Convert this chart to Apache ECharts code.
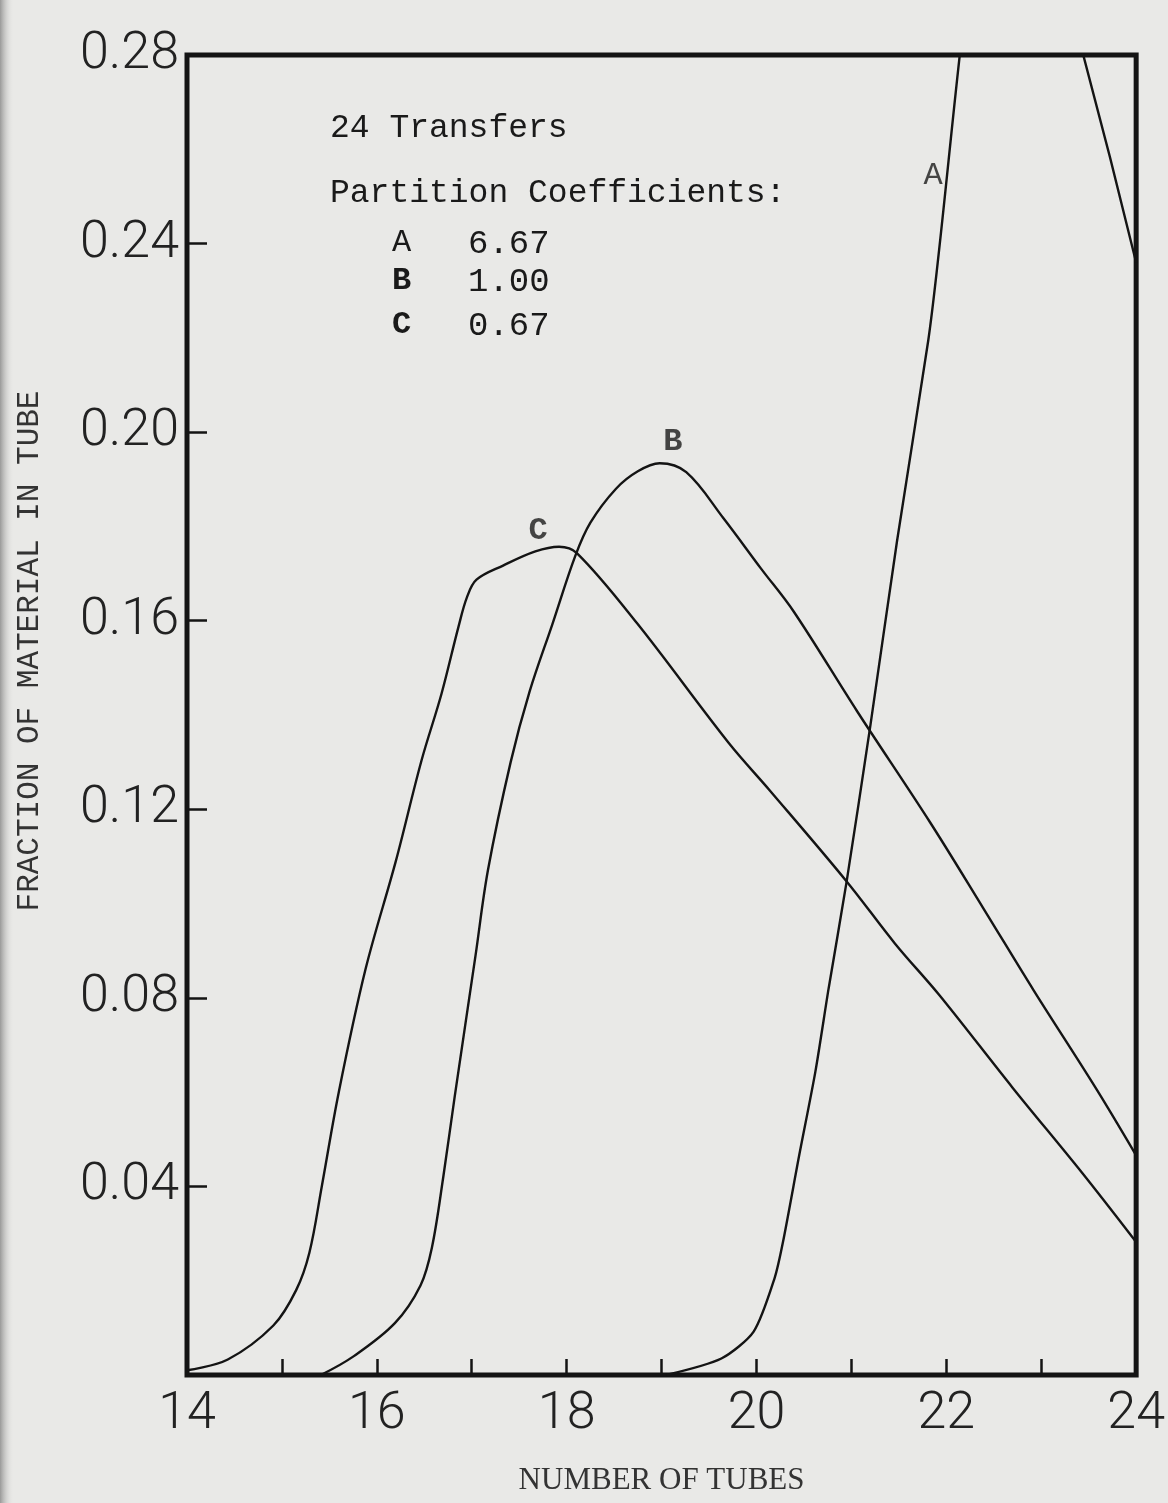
<!DOCTYPE html>
<html>
<head>
<meta charset="utf-8">
<script src="https://cdn.jsdelivr.net/npm/echarts@6/dist/echarts.min.js"></script>
<style>
  html, body { margin: 0; padding: 0; background: #e9e9e7; }
  #chart { width: 1168px; height: 1503px; }
</style>
</head>
<body>
<div id="chart"></div>
<script>
// ---- data ----
const xTickLabels = ['14', '', '16', '', '18', '', '20', '', '22', '', '24'];
const yTickLabels = ['', '0.04', '0.08', '0.12', '0.16', '0.20', '0.24', '0.28'];

// Curve A (partition coefficient 6.67)
const tubesA = [19.05, 19.63, 19.97, 20.19, 20.28, 20.45, 20.62, 20.76, 20.95, 21.20, 21.48, 21.81, 22.60, 24.00];
const fracA  = [0.0000, 0.0035, 0.0092, 0.0205, 0.0283, 0.0466, 0.0643, 0.0820, 0.1047, 0.1378, 0.1768, 0.2195, 0.3310, 0.2360];

// Curve B (partition coefficient 1.00)
const tubesB = [15.41, 15.75, 16.19, 16.46, 16.58, 16.70, 16.82, 17.04, 17.17, 17.41, 17.61, 17.85, 18.09, 18.25, 18.52, 18.75, 18.98, 19.26, 19.65, 20.05, 20.39, 21.06, 21.83, 22.39, 22.92, 23.58, 24.00];
const fracB  = [0.0000, 0.0039, 0.0110, 0.0190, 0.0270, 0.0420, 0.0590, 0.0890, 0.1070, 0.1300, 0.1450, 0.1593, 0.1737, 0.1808, 0.1880, 0.1917, 0.1934, 0.1915, 0.1818, 0.1710, 0.1620, 0.1408, 0.1172, 0.0990, 0.0816, 0.0607, 0.0466];

// Curve C (partition coefficient 0.67)
const tubesC = [14.00, 14.43, 14.91, 15.15, 15.29, 15.42, 15.60, 15.88, 16.20, 16.47, 16.68, 16.86, 16.95, 17.05, 17.33, 17.67, 17.92, 18.11, 18.74, 19.71, 20.14, 20.95, 21.46, 21.93, 22.70, 23.43, 24.00];
const fracC  = [0.0010, 0.0033, 0.0105, 0.0180, 0.0260, 0.0400, 0.0601, 0.0860, 0.1090, 0.1303, 0.1444, 0.1587, 0.1650, 0.1687, 0.1717, 0.1747, 0.1757, 0.1743, 0.1595, 0.1340, 0.1240, 0.1047, 0.0915, 0.0805, 0.0609, 0.0429, 0.0282];

// Curve letters placed beside the curves (data coordinates)
const curveNames  = ['A', 'B', 'C'];
const labelTubes  = [21.86, 19.12, 17.70];
const labelFracs  = [0.2545, 0.198, 0.1790];
const labelBold   = [false, true, true];

// Text block
const headerLines = ['24 Transfers', 'Partition Coefficients:'];
const coefNames  = ['A', 'B', 'C'];
const coefValues = ['6.67', '1.00', '0.67'];

const zip = (xs, ys) => xs.map((x, i) => [x, ys[i]]);

const mono = "'Courier New', 'Liberation Mono', 'DejaVu Sans Mono', monospace";
const ink = '#141414';

const lineSeries = (name, xs, ys, smooth) => ({
  name: name,
  type: 'line',
  data: zip(xs, ys),
  showSymbol: false,
  smooth: smooth,
  clip: true,
  lineStyle: { color: ink, width: 2.4 },
  z: 3
});

const chart = echarts.init(document.getElementById('chart'), null, { renderer: 'canvas' });

const textGraphics = [];
textGraphics.push({ type: 'text', left: 330, top: 112, style: { text: headerLines[0], font: "33px " + mono, fill: '#1a1a1a' } });
textGraphics.push({ type: 'text', left: 330, top: 177, style: { text: headerLines[1], font: "33px " + mono, fill: '#1a1a1a' } });
const coefTops = [227, 265, 309];
coefNames.forEach((n, i) => {
  textGraphics.push({ type: 'text', left: 392, top: coefTops[i], style: { text: n, font: (i === 0 ? '' : 'bold ') + "32px " + mono, fill: '#1a1a1a' } });
  textGraphics.push({ type: 'text', left: 468, top: coefTops[i], style: { text: coefValues[i], font: "34px " + mono, fill: '#1a1a1a' } });
});
// y axis title
textGraphics.push({
  type: 'text', x: 30, y: 651, rotation: Math.PI / 2,
  style: { text: 'FRACTION OF MATERIAL IN TUBE', font: "31px " + mono, fill: '#333', align: 'center', verticalAlign: 'middle' }
});
// darker photo edge on the left
textGraphics.push({
  type: 'rect', left: 0, top: 0, z: -1,
  shape: { width: 14, height: 1503 },
  style: { fill: new echarts.graphic.LinearGradient(0, 0, 1, 0, [
    { offset: 0, color: 'rgba(100,100,100,0.6)' },
    { offset: 1, color: 'rgba(233,233,231,0)' }
  ]) }
});

const option = {
  backgroundColor: '#e9e9e7',
  animation: false,
  grid: {
    left: 187, right: 27, top: 55, bottom: 128,
    show: true, borderColor: ink, borderWidth: 5, backgroundColor: 'transparent'
  },
  xAxis: {
    type: 'value', min: 14, max: 24, interval: 1,
    name: 'NUMBER OF TUBES', nameLocation: 'middle', nameGap: 90,
    nameTextStyle: { fontFamily: "'Liberation Serif', 'DejaVu Serif', serif", fontSize: 31, color: '#333' },
    axisLine: { show: false },
    axisTick: { show: true, inside: true, length: 16, lineStyle: { color: ink, width: 2.5 } },
    axisLabel: {
      show: true, margin: 14, showMinLabel: true, showMaxLabel: true,
      fontFamily: "Roboto, 'Liberation Sans', sans-serif", fontWeight: 300, fontSize: 52, color: '#222',
      formatter: v => xTickLabels[Math.round(v - 14)] || ''
    },
    splitLine: { show: false }
  },
  yAxis: {
    type: 'value', min: 0, max: 0.28, interval: 0.04,
    axisLine: { show: false },
    axisTick: { show: true, inside: true, length: 20, lineStyle: { color: ink, width: 2.5 } },
    axisLabel: {
      show: true, margin: 8, showMinLabel: true, showMaxLabel: true,
      fontFamily: "Roboto, 'Liberation Sans', sans-serif", fontWeight: 300, fontSize: 52, color: '#222',
      formatter: v => yTickLabels[Math.round(v / 0.04)] || ''
    },
    splitLine: { show: false }
  },
  graphic: textGraphics,
  series: [
    lineSeries('A', tubesA, fracA, 0.25),
    lineSeries('B', tubesB, fracB, 0.35),
    lineSeries('C', tubesC, fracC, 0.35),
    {
      name: 'curve labels',
      type: 'scatter',
      symbolSize: 1,
      itemStyle: { color: 'rgba(0,0,0,0)' },
      data: curveNames.map((n, i) => ({
        value: [labelTubes[i], labelFracs[i]],
        label: { show: true, position: 'inside', formatter: n, fontFamily: mono, fontSize: 32, fontWeight: labelBold[i] ? 'bold' : 'normal', color: '#1a1a1a' }
      })),
      z: 4
    }
  ]
};

chart.setOption(option);
</script>
</body>
</html>
